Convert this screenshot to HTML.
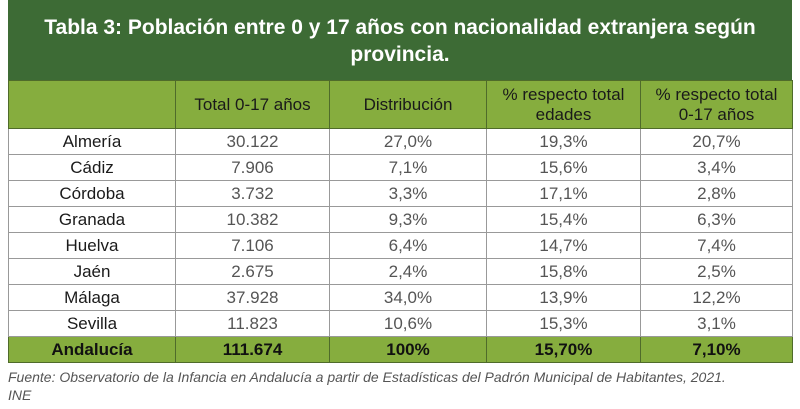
<!DOCTYPE html>
<html><head><meta charset="utf-8"><style>
body{margin:0;width:800px;height:409px;background:#fff;font-family:"Liberation Sans",sans-serif;position:relative;overflow:hidden}
#title{position:absolute;left:8px;top:0;width:784px;height:80px;background:#3d6b35;color:#fff;font-size:21px;font-weight:bold;text-align:center;line-height:27px;box-sizing:border-box;padding-top:14px}
table{position:absolute;left:8px;top:80px;width:784px;border-collapse:collapse;table-layout:fixed}
td,th{border:1px solid #999;text-align:center;font-size:17px;padding:0;height:25px;color:#555}
th{background:#86ad3e;color:#1a1a1a;font-weight:normal;height:47px;line-height:20px;border-color:#4f6b2a}
td.p{color:#1a1a1a}
tr.tot td{background:#86ad3e;color:#111;font-weight:bold;border-color:#4f6b2a}
#note{position:absolute;left:8px;top:368px;width:790px;font-size:14px;font-style:italic;color:#555;line-height:18px}
</style></head><body>
<div id="title">Tabla 3: Población entre 0 y 17 años con nacionalidad extranjera según<br>provincia.</div>
<table>
<colgroup><col style="width:167px"><col style="width:154px"><col style="width:157px"><col style="width:154px"><col style="width:152px"></colgroup>
<tr><th></th><th>Total 0-17 años</th><th>Distribución</th><th>% respecto total<br>edades</th><th>% respecto total<br>0-17 años</th></tr>
<tr><td class="p">Almería</td><td>30.122</td><td>27,0%</td><td>19,3%</td><td>20,7%</td></tr>
<tr><td class="p">Cádiz</td><td>7.906</td><td>7,1%</td><td>15,6%</td><td>3,4%</td></tr>
<tr><td class="p">Córdoba</td><td>3.732</td><td>3,3%</td><td>17,1%</td><td>2,8%</td></tr>
<tr><td class="p">Granada</td><td>10.382</td><td>9,3%</td><td>15,4%</td><td>6,3%</td></tr>
<tr><td class="p">Huelva</td><td>7.106</td><td>6,4%</td><td>14,7%</td><td>7,4%</td></tr>
<tr><td class="p">Jaén</td><td>2.675</td><td>2,4%</td><td>15,8%</td><td>2,5%</td></tr>
<tr><td class="p">Málaga</td><td>37.928</td><td>34,0%</td><td>13,9%</td><td>12,2%</td></tr>
<tr><td class="p">Sevilla</td><td>11.823</td><td>10,6%</td><td>15,3%</td><td>3,1%</td></tr>
<tr class="tot"><td>Andalucía</td><td>111.674</td><td>100%</td><td>15,70%</td><td>7,10%</td></tr>
</table>
<div id="note">Fuente: Observatorio de la Infancia en Andalucía a partir de Estadísticas del Padrón Municipal de Habitantes, 2021.<br>INE</div>
</body></html>
